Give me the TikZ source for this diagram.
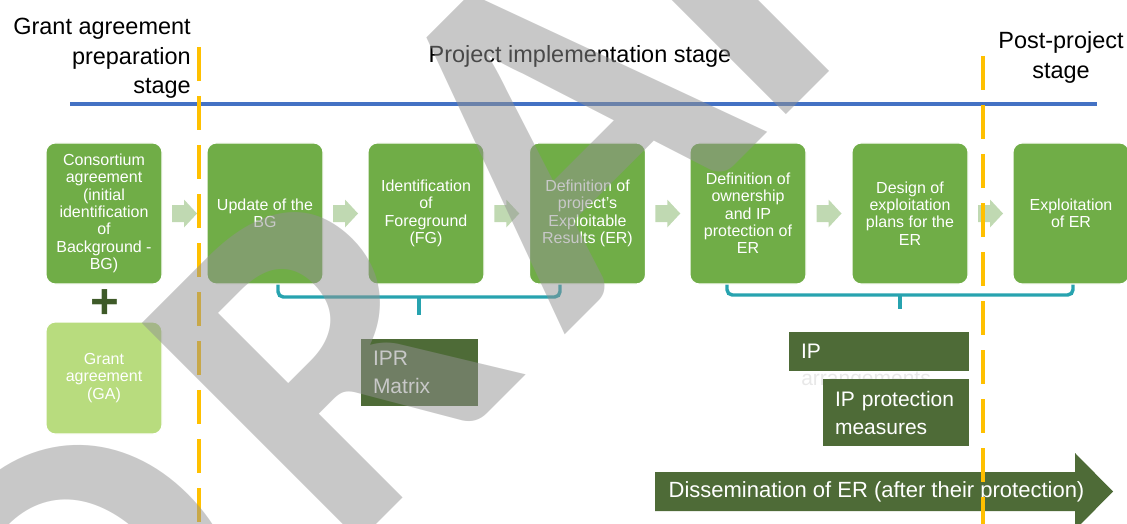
\documentclass[tikz,border=0pt]{standalone}
\usepackage{fontspec}
\setmainfont{Liberation Sans}
\newfontfamily\wmfont{Carlito}
\usetikzlibrary{calc}
\definecolor{boxgreen}{HTML}{70AD47}
\definecolor{lightgreen}{HTML}{B8DC7E}
\definecolor{darkgreen}{HTML}{4E6B37}
\definecolor{plusgreen}{HTML}{3E5A28}
\definecolor{flowgreen}{HTML}{C0D9B2}
\definecolor{braceteal}{HTML}{27A3AF}
\definecolor{lineblue}{HTML}{4472C4}
\definecolor{stageorange}{HTML}{FFC000}
\definecolor{wmgray}{HTML}{929292}
\newcommand{\wmgap}{\kern38pt}
\begin{document}
\begin{tikzpicture}[x=0.75pt,y=-0.75pt,
  title/.style={text=black, inner sep=0pt, font=\fontsize{17.6}{22.1}\selectfont},
  stepbox/.style={draw=white, line width=0.8pt, fill=boxgreen, rounded corners=7pt,
    minimum width=87pt, minimum height=105.75pt, text=white, align=center,
    inner sep=1pt, font=\fontsize{12}{13}\selectfont},
  gabox/.style={stepbox, fill=lightgreen, minimum height=84pt},
  darkbox/.style={fill=darkgreen, text=white, align=left, inner xsep=9pt, inner ysep=0pt,
    font=\fontsize{15.75}{21}\selectfont},
  flowarrow/.style={fill=flowgreen},
  brace/.style={draw=braceteal, line width=2.6pt, rounded corners=4pt},
  timeline/.style={draw=lineblue, line width=2.6pt},
  stageline/.style={draw=stageorange, line width=2.6pt, dash pattern=on 25.5pt off 11.25pt},
  watermark/.style={rotate=45, text=wmgray, text opacity=0.5, inner sep=0pt,
    font=\wmfont\bfseries\fontsize{356}{356}\selectfont}]
\useasboundingbox (0,0) rectangle (1127,524);

% stage titles and time axis
\node[title, align=right, anchor=east] (tprep) at (191,58.6) {Grant agreement\\preparation\\stage};
\node[title, anchor=base] (timpl) at (580,63) {Project implementation stage};
\node[title, align=center] (tpost) at (1061,57.6) {Post-project\\stage};
\draw[timeline] (70,104) -- (1097,104);

% braces grouping the steps
\coordinate (br1l) at (278,281);
\coordinate (br1m) at (419,297);
\coordinate (br1r) at (560,281);
\coordinate (br1t) at (419,315);
\draw[brace] (br1l) |- (br1m) -| (br1r);
\draw[brace] (br1m) -- (br1t);
\coordinate (br2l) at (727,281);
\coordinate (br2m) at (900,295);
\coordinate (br2r) at (1073,281);
\coordinate (br2t) at (900,309);
\draw[brace] (br2l) |- (br2m) -| (br2r);
\draw[brace] (br2m) -- (br2t);

% process steps
\node[stepbox] (b1) at (104,213.5) {Consortium\\agreement\\(initial\\identification\\of\\Background -\\BG)};
\node[stepbox] (b2) at (265,213.5) {Update of the\\BG};
\node[stepbox] (b3) at (426,213.5) {Identification\\of\\Foreground\\(FG)};
\node[stepbox] (b4) at (587.5,213.5) {Definition of\\project’s\\Exploitable\\Results (ER)};
\node[stepbox] (b5) at (748,213.5) {Definition of\\ownership\\and IP\\protection of\\ER};
\node[stepbox] (b6) at (910,213.5) {Design of\\exploitation\\plans for the\\ER};
\node[stepbox] (b7) at (1071,213.5) {Exploitation\\of ER};

% block arrows between the steps
\foreach \a/\b in {b1/b2,b2/b3,b3/b4,b4/b5,b5/b6,b6/b7}{
  \coordinate (m) at ($(\a.east)!0.5!(\b.west)$);
  \fill[flowarrow] ($(m)+(-12.5,-8.5)$) -- ($(m)+(-0.5,-8.5)$) -- ($(m)+(-0.5,-14)$)
    -- ($(m)+(12.5,0)$) -- ($(m)+(-0.5,14)$) -- ($(m)+(-0.5,8.5)$) -- ($(m)+(-12.5,8.5)$) -- cycle;
}

% grant agreement
\node[text=plusgreen, inner sep=0pt, font=\bfseries\fontsize{37}{37}\selectfont] (plus) at (104.5,304) {+};
\node[gabox] (ga) at (104,378) {Grant\\agreement\\(GA)};

% outputs
\node[darkbox, minimum height=50.25pt, text width=69.75pt] (ipr) at (419.5,372.5) {IPR\\Matrix};
\node[darkbox, minimum height=29.25pt, text width=117pt] (ip) at (879,351.5) {IP};
\node[anchor=west, inner sep=0pt, text=black!9, font=\fontsize{15.75}{21}\selectfont] (iparr) at (801,381) {arrangements};
\node[darkbox, minimum height=50.25pt, text width=91.5pt] (ipm) at (896,412.5) {IP protection\\measures};

% dissemination arrow
\fill[darkgreen] (655,472) -- (1075,472) -- (1075,453) -- (1113,491.5) -- (1075,530)
  -- (1075,511) -- (655,511) -- cycle;
\node[text=white, inner sep=0pt, font=\fontsize{16.5}{20}\selectfont] (dis) at (876.5,492) {Dissemination of ER (after their protection)};

% stage boundaries
\draw[stageline] (199,47) -- (199,524);
\draw[stageline] (983,56) -- (983,524);

% draft mark
\begin{scope}
\clip (0,0) rectangle (1127,524);
\node[watermark] (wm) at (500,183) {D\wmgap R\wmgap AF\wmgap T};
\end{scope}
\end{tikzpicture}
\end{document}
